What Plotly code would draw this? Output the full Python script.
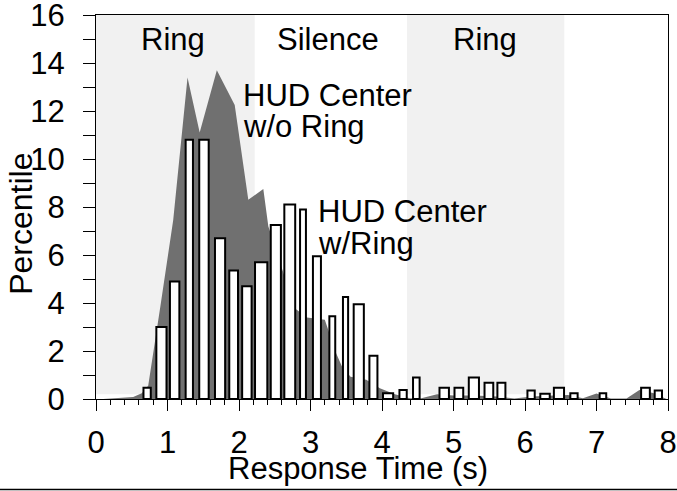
import plotly.graph_objects as go

# ---- data ----
# Histogram bars "HUD Center w/Ring": bin left edge, right edge, percentile
bar_left = [0.65, 0.83, 1.02, 1.24, 1.43, 1.65, 1.85, 2.03, 2.21, 2.43, 2.62, 2.84,
            3.02, 3.25, 3.44, 3.59, 3.81, 4.00, 4.23, 4.42, 4.79, 5.00, 5.20, 5.42,
            5.60, 6.02, 6.20, 6.39, 6.62, 7.03, 7.61, 7.80]
bar_right = [0.78, 1.00, 1.18, 1.37, 1.59, 1.82, 2.00, 2.19, 2.41, 2.60, 2.80, 2.95,
             3.16, 3.36, 3.54, 3.76, 3.95, 4.17, 4.36, 4.54, 4.95, 5.15, 5.37, 5.57,
             5.74, 6.15, 6.36, 6.56, 6.75, 7.15, 7.76, 7.93]
bar_height = [0.47, 3.0, 4.9, 10.8, 10.8, 6.7, 5.35, 4.7, 5.7, 7.25, 8.1, 7.9,
              5.95, 3.45, 4.25, 3.95, 1.8, 0.24, 0.37, 0.9, 0.47, 0.47, 0.9, 0.68,
              0.68, 0.35, 0.22, 0.47, 0.24, 0.24, 0.47, 0.35]

# Filled distribution "HUD Center w/o Ring"
area_x = [0.10, 0.52, 0.64, 0.73, 0.90, 1.08, 1.28, 1.45, 1.69, 1.94, 2.13, 2.34,
          2.41, 2.78, 2.95, 3.20, 3.36, 3.44, 3.56, 3.78, 3.97, 4.18, 4.39, 4.55,
          4.77, 5.00, 5.30, 5.60, 5.85, 6.10, 6.40, 6.60, 6.81, 7.00, 7.20, 7.42,
          7.60, 7.79, 7.98]
area_y = [0.0, 0.08, 0.24, 0.55, 3.85, 7.46, 13.4, 11.1, 13.7, 12.25, 8.3, 8.75,
          7.2, 3.78, 3.4, 3.3, 1.9, 1.35, 0.93, 0.8, 0.45, 0.2, 0.03, 0.03,
          0.2, 0.15, 0.15, 0.1, 0.02, 0.1, 0.15, 0.17, 0.03, 0.23, 0.02, 0.02,
          0.37, 0.25, 0.0]

# Shaded condition periods
band_start = [0.0, 4.35]
band_end = [2.22, 6.55]
period_labels = ["Ring", "Silence", "Ring"]
period_x = [1.08, 3.25, 5.44]

x_ticks = [0, 1, 2, 3, 4, 5, 6, 7, 8]
y_ticks = [0, 2, 4, 6, 8, 10, 12, 14, 16]

# ---- style ----
FONT = "Liberation Sans, Arial, Helvetica, sans-serif"
W, H = 677, 491
ML, MR, MT, MB = 96, 9, 15, 92
PW, PH = W - ML - MR, H - MT - MB
px_per_x = PW / 8.0
OUTLINE = 2
FS = 31

fig = go.Figure()

fig.add_trace(go.Scatter(
    x=area_x, y=area_y, mode="lines", fill="tozeroy",
    line=dict(color="#707070", width=0), fillcolor="#707070",
    hoverinfo="skip", showlegend=False))

centers = [(l + r) / 2 for l, r in zip(bar_left, bar_right)]
widths = [(r - l) - OUTLINE / px_per_x for l, r in zip(bar_left, bar_right)]
fig.add_trace(go.Bar(
    x=centers, y=bar_height, width=widths, xaxis="x2", yaxis="y2",
    marker=dict(color="white", line=dict(color="black", width=OUTLINE)),
    showlegend=False))

for s, e in zip(band_start, band_end):
    fig.add_shape(type="rect", xref="x", yref="y", x0=s, x1=e, y0=0.2, y1=16,
                  fillcolor="#f1f1f1", line=dict(width=0), layer="below")

text_font = dict(size=FS, color="black", family=FONT)
for lab, xx in zip(period_labels, period_x):
    fig.add_annotation(x=xx, y=15.0, xref="x", yref="y", text=lab, showarrow=False,
                       font=text_font, xanchor="center", yanchor="middle")

fig.add_annotation(x=2.03, y=12.66, xref="x", yref="y", text="HUD Center",
                   showarrow=False, font=text_font, xanchor="left", yanchor="middle")
fig.add_annotation(x=2.03, y=11.34, xref="x", yref="y", text="w/o Ring",
                   showarrow=False, font=text_font, xanchor="left", yanchor="middle")
fig.add_annotation(x=3.08, y=7.82, xref="x", yref="y", text="HUD Center",
                   showarrow=False, font=text_font, xanchor="left", yanchor="middle")
fig.add_annotation(x=3.08, y=6.5, xref="x", yref="y", text="w/Ring",
                   showarrow=False, font=text_font, xanchor="left", yanchor="middle")

# axis titles
fig.add_annotation(x=3.66, y=-0.18, xref="x", yref="paper", text="Response Time (s)",
                   showarrow=False, font=text_font, xanchor="center", yanchor="middle")
fig.add_annotation(x=-(ML - 21) / PW, y=7.3, xref="paper", yref="y", text="Percentile",
                   showarrow=False, font=dict(size=32, color="black", family=FONT),
                   textangle=-90, xanchor="center", yanchor="middle")

# bottom rule across whole image
yb = -(489.5 - (H - MB)) / PH
fig.add_shape(type="line", xref="paper", yref="paper",
              x0=-ML / PW, x1=(W - ML) / PW, y0=yb, y1=yb,
              line=dict(color="black", width=1.5))

tick_font = dict(size=FS, color="black", family=FONT)
fig.update_layout(
    xaxis=dict(range=[0, 8], tickvals=x_ticks, ticks="outside", ticklen=11,
               tickcolor="black", tickwidth=1, showline=True, linecolor="black",
               linewidth=1, mirror=True, showgrid=False, zeroline=False,
               showticklabels=False, automargin=False,
               minor=dict(dtick=0.2, ticks="outside", ticklen=5, tickcolor="black",
                          tickwidth=1, showgrid=False)),
    xaxis2=dict(range=[0, 8], overlaying="x", side="bottom", tickvals=x_ticks,
                ticks="", showline=False, showgrid=False, zeroline=False,
                tickfont=tick_font, ticklabelstandoff=22, automargin=False,
                ticklabeloverflow="allow"),
    yaxis=dict(range=[0, 16], tickvals=y_ticks, ticks="outside", ticklen=12,
               tickcolor="black", tickwidth=1, showline=True, linecolor="black",
               linewidth=1, mirror=True, showgrid=False, zeroline=False,
               tickfont=tick_font, ticklabelstandoff=12, automargin=False,
               ticklabeloverflow="allow",
               minor=dict(dtick=1, ticks="outside", ticklen=12, tickcolor="black",
                          tickwidth=1, showgrid=False)),
    yaxis2=dict(range=[0, 16], overlaying="y", visible=False, automargin=False),
    width=W, height=H, autosize=False,
    margin=dict(l=ML, r=MR, t=MT, b=MB, autoexpand=False),
    plot_bgcolor="white", paper_bgcolor="white",
    bargap=0, showlegend=False, hovermode=False,
    font=dict(family=FONT, color="black"))

fig.write_html("out.html", config={"displayModeBar": False, "staticPlot": True},
               post_script="document.body.style.margin='0px';document.body.style.overflow='hidden';")
